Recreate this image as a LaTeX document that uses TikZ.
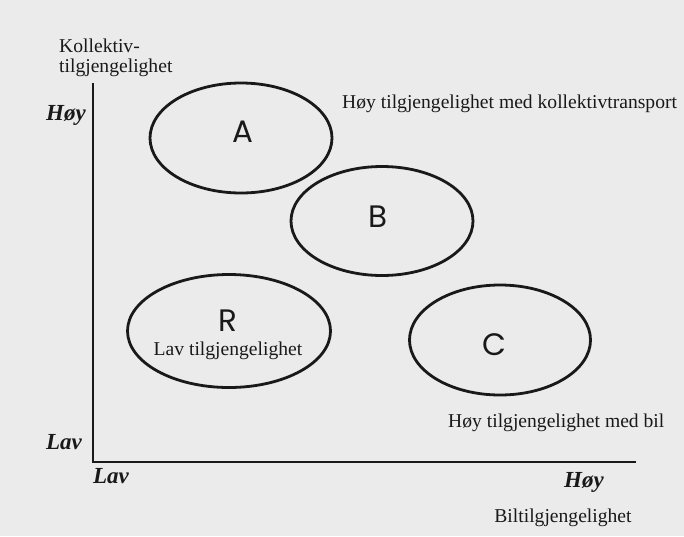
\documentclass[tikz,border=0pt]{standalone}
\usepackage{fontspec}
\setmainfont{Liberation Serif}
\newfontfamily\letterfont{Poppins}
\usetikzlibrary{shapes.geometric}
\begin{document}
\begin{tikzpicture}[x=1pt, y=-1pt]
% Diagram: kollektiv- vs biltilgjengelighet
\def\ringwd{2.8pt}
\providecommand{\papercolor}{black!8}
\providecommand{\inkcolor}{black!90}
\tikzset{
  zone/.style={ellipse, draw=\inkcolor, line width=\ringwd, inner sep=0pt},
  zoneletter/.style={font=\letterfont\fontsize{31}{31}\selectfont, text=\inkcolor},
  axlabel/.style={font=\fontsize{23}{23}\selectfont\bfseries\itshape, text=\inkcolor, inner sep=0pt, anchor=base},
  txt/.style={font=\fontsize{19.6}{20}\selectfont, text=\inkcolor, inner sep=0pt}
}
% Paper
\fill[\papercolor] (0,0) rectangle (684,536);
\useasboundingbox (0,0) rectangle (684,536);
% Axes
\coordinate (top) at (93,83);
\coordinate (origin) at (93,462);
\coordinate (right) at (636,462);
\draw[\inkcolor, line width=1.6pt] (top) -- (origin) -- (right);
% Axis titles and ends
\node[txt, anchor=base west] (ytitle) at (59,52) {Kollektiv-};
\node[txt, anchor=base west] (ytitleb) at (59,72) {tilgjengelighet};
\node[axlabel] (yhigh) at (66,120) {Høy};
\node[axlabel] (ylow) at (64,449) {Lav};
\node[axlabel] (xlow) at (111,483) {Lav};
\node[axlabel] (xhigh) at (584,487) {Høy};
\node[txt, anchor=base] (xtitle) at (563,522) {Biltilgjengelighet};
% Zones
\node[zone, minimum width=182pt, minimum height=110pt] (zoneA) at (241,138) {};
\node[zone, minimum width=182pt, minimum height=109pt] (zoneB) at (382,221) {};
\node[zone, minimum width=203pt, minimum height=113pt] (zoneR) at (229,331) {};
\node[zone, minimum width=181pt, minimum height=110pt] (zoneC) at (500,340) {};
\node[zoneletter] (letterA) at (243,132) {A};
\node[zoneletter] (letterB) at (378,217) {B};
\node[zoneletter] (letterR) at (228,321) {R};
\node[zoneletter] (letterC) at (494,345) {C};
% Zone descriptions
\node[txt, anchor=base] (lowall) at (228,355) {Lav tilgjengelighet};
\node[txt, anchor=base west] (highpt) at (342,108) {Høy tilgjengelighet med kollektivtransport};
\node[txt, anchor=base west] (highcar) at (448,427) {Høy tilgjengelighet med bil};
\end{tikzpicture}
\end{document}
